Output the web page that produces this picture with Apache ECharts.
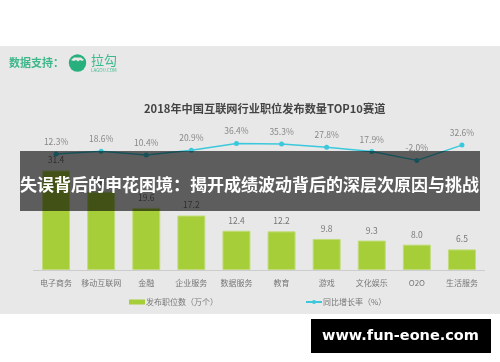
<!DOCTYPE html>
<html>
<head>
<meta charset="utf-8">
<script src="https://cdn.jsdelivr.net/npm/echarts@6/dist/echarts.min.js"></script>
<style>
html, body { margin: 0; padding: 0; background: #fff; }
#main { width: 500px; height: 362px; filter: blur(0.35px); }
</style>
</head>
<body>
<div id="main"></div>
<script>
var categories = ['电子商务', '移动互联网', '金融', '企业服务', '数据服务', '教育', '游戏', '文化娱乐', 'O2O', '生活服务'];
var jobCounts = [31.4, 24.7, 19.6, 17.2, 12.4, 12.2, 9.8, 9.3, 8.0, 6.5];
var growthRates = [12.3, 18.6, 10.4, 20.9, 36.4, 35.3, 27.8, 17.9, -2.0, 32.6];
var chartTitle = '2018年中国互联网行业职位发布数量TOP10赛道';
var bannerText = '失误背后的申花困境：揭开成绩波动背后的深层次原因与挑战';
var siteText = 'www.fun-eone.com';

var font = '"Noto Sans CJK SC", sans-serif';
var chart = echarts.init(document.getElementById('main'));

var option = {
    backgroundColor: '#fff',
    animation: false,
    textStyle: { fontFamily: font },
    title: {
        text: chartTitle,
        left: 139,
        top: 98,
        textStyle: { fontSize: 11.2, fontWeight: 'bold', color: '#444', fontFamily: font }
    },
    legend: {
        left: 124,
        top: 293,
        itemWidth: 16,
        itemHeight: 5,
        itemGap: 87,
        textStyle: { fontSize: 8, color: '#777', padding: [0, 0, 0, -4] },
        data: [
            { name: '发布职位数（万个）', icon: 'rect', itemStyle: { borderWidth: 0 } },
            { name: '同比增长率（%）' }
        ]
    },
    grid: { left: 33.5, right: 15.5, top: 110, height: 160 },
    xAxis: {
        type: 'category',
        data: categories,
        axisLine: { lineStyle: { color: '#ccc' } },
        axisTick: { show: false },
        axisLabel: { color: '#777', fontSize: 8, margin: 9, interval: 0 }
    },
    yAxis: [
        { type: 'value', min: 0, max: 50.5, show: false },
        { type: 'value', min: -250, max: 112, show: false }
    ],
    series: [
        {
            name: '发布职位数（万个）',
            type: 'bar',
            data: jobCounts,
            barWidth: 28,
            itemStyle: { color: '#a6ce39', borderColor: '#c2dc7c', borderWidth: 1 },
            label: { show: true, position: 'top', distance: 6, color: '#777', fontSize: 8.5, formatter: function (p) { return p.value.toFixed(1); } }
        },
        {
            name: '同比增长率（%）',
            type: 'line',
            yAxisIndex: 1,
            data: growthRates,
            symbol: 'circle',
            symbolSize: 5,
            lineStyle: { color: '#3cc8dc', width: 1.5 },
            itemStyle: { color: '#3cc8dc' },
            label: { show: true, position: 'top', distance: 5.5, color: '#888', fontSize: 8.5, formatter: function (p) { return p.value.toFixed(1) + '%'; } }
        }
    ],
    graphic: [
        // grey page panel behind the chart
        { type: 'rect', z: -10, silent: true, shape: { x: 0, y: 46, width: 500, height: 268 }, style: { fill: '#e8e8e8' } },
        // data source logo
        { type: 'text', z: 5, style: { x: 9, y: 63, text: '数据支持：', fill: '#3db88b', verticalAlign: 'middle', font: 'bold 11px ' + font } },
        { type: 'circle', z: 5, shape: { cx: 77.5, cy: 63, r: 8.7 }, style: { fill: '#27b07d' } },
        { type: 'polygon', z: 6, shape: { points: [[71, 60], [74, 57.5], [81, 57.5], [84, 60], [82, 61], [80, 60], [78, 61.5], [76, 60], [74, 61], [72, 60.5]] }, style: { fill: '#e8e8e8' } },
        { type: 'text', z: 5, style: { x: 91, y: 60, text: '拉勾', fill: '#3db88b', verticalAlign: 'middle', font: '13px ' + font } },
        { type: 'text', z: 5, style: { x: 91, y: 70, text: 'LAGOU.COM', fill: '#3db88b', verticalAlign: 'middle', font: '4.5px ' + font } },
        // banner over the chart
        { type: 'rect', z: 100, shape: { x: 20, y: 151, width: 460, height: 60 }, style: { fill: 'rgba(0,0,0,0.6)' } },
        { type: 'text', z: 101, style: { x: 249.5, y: 185, text: bannerText, fill: '#fff', align: 'center', verticalAlign: 'middle', font: 'bold 17px ' + font } },
        // site tag
        { type: 'rect', z: 100, shape: { x: 311, y: 319, width: 180, height: 34 }, style: { fill: '#000' } },
        { type: 'text', z: 101, style: { x: 400.5, y: 336.5, text: siteText, fill: '#fff', align: 'center', verticalAlign: 'middle', font: 'bold 14.5px "DejaVu Sans", sans-serif' } }
    ]
};

chart.setOption(option);
</script>
</body>
</html>
